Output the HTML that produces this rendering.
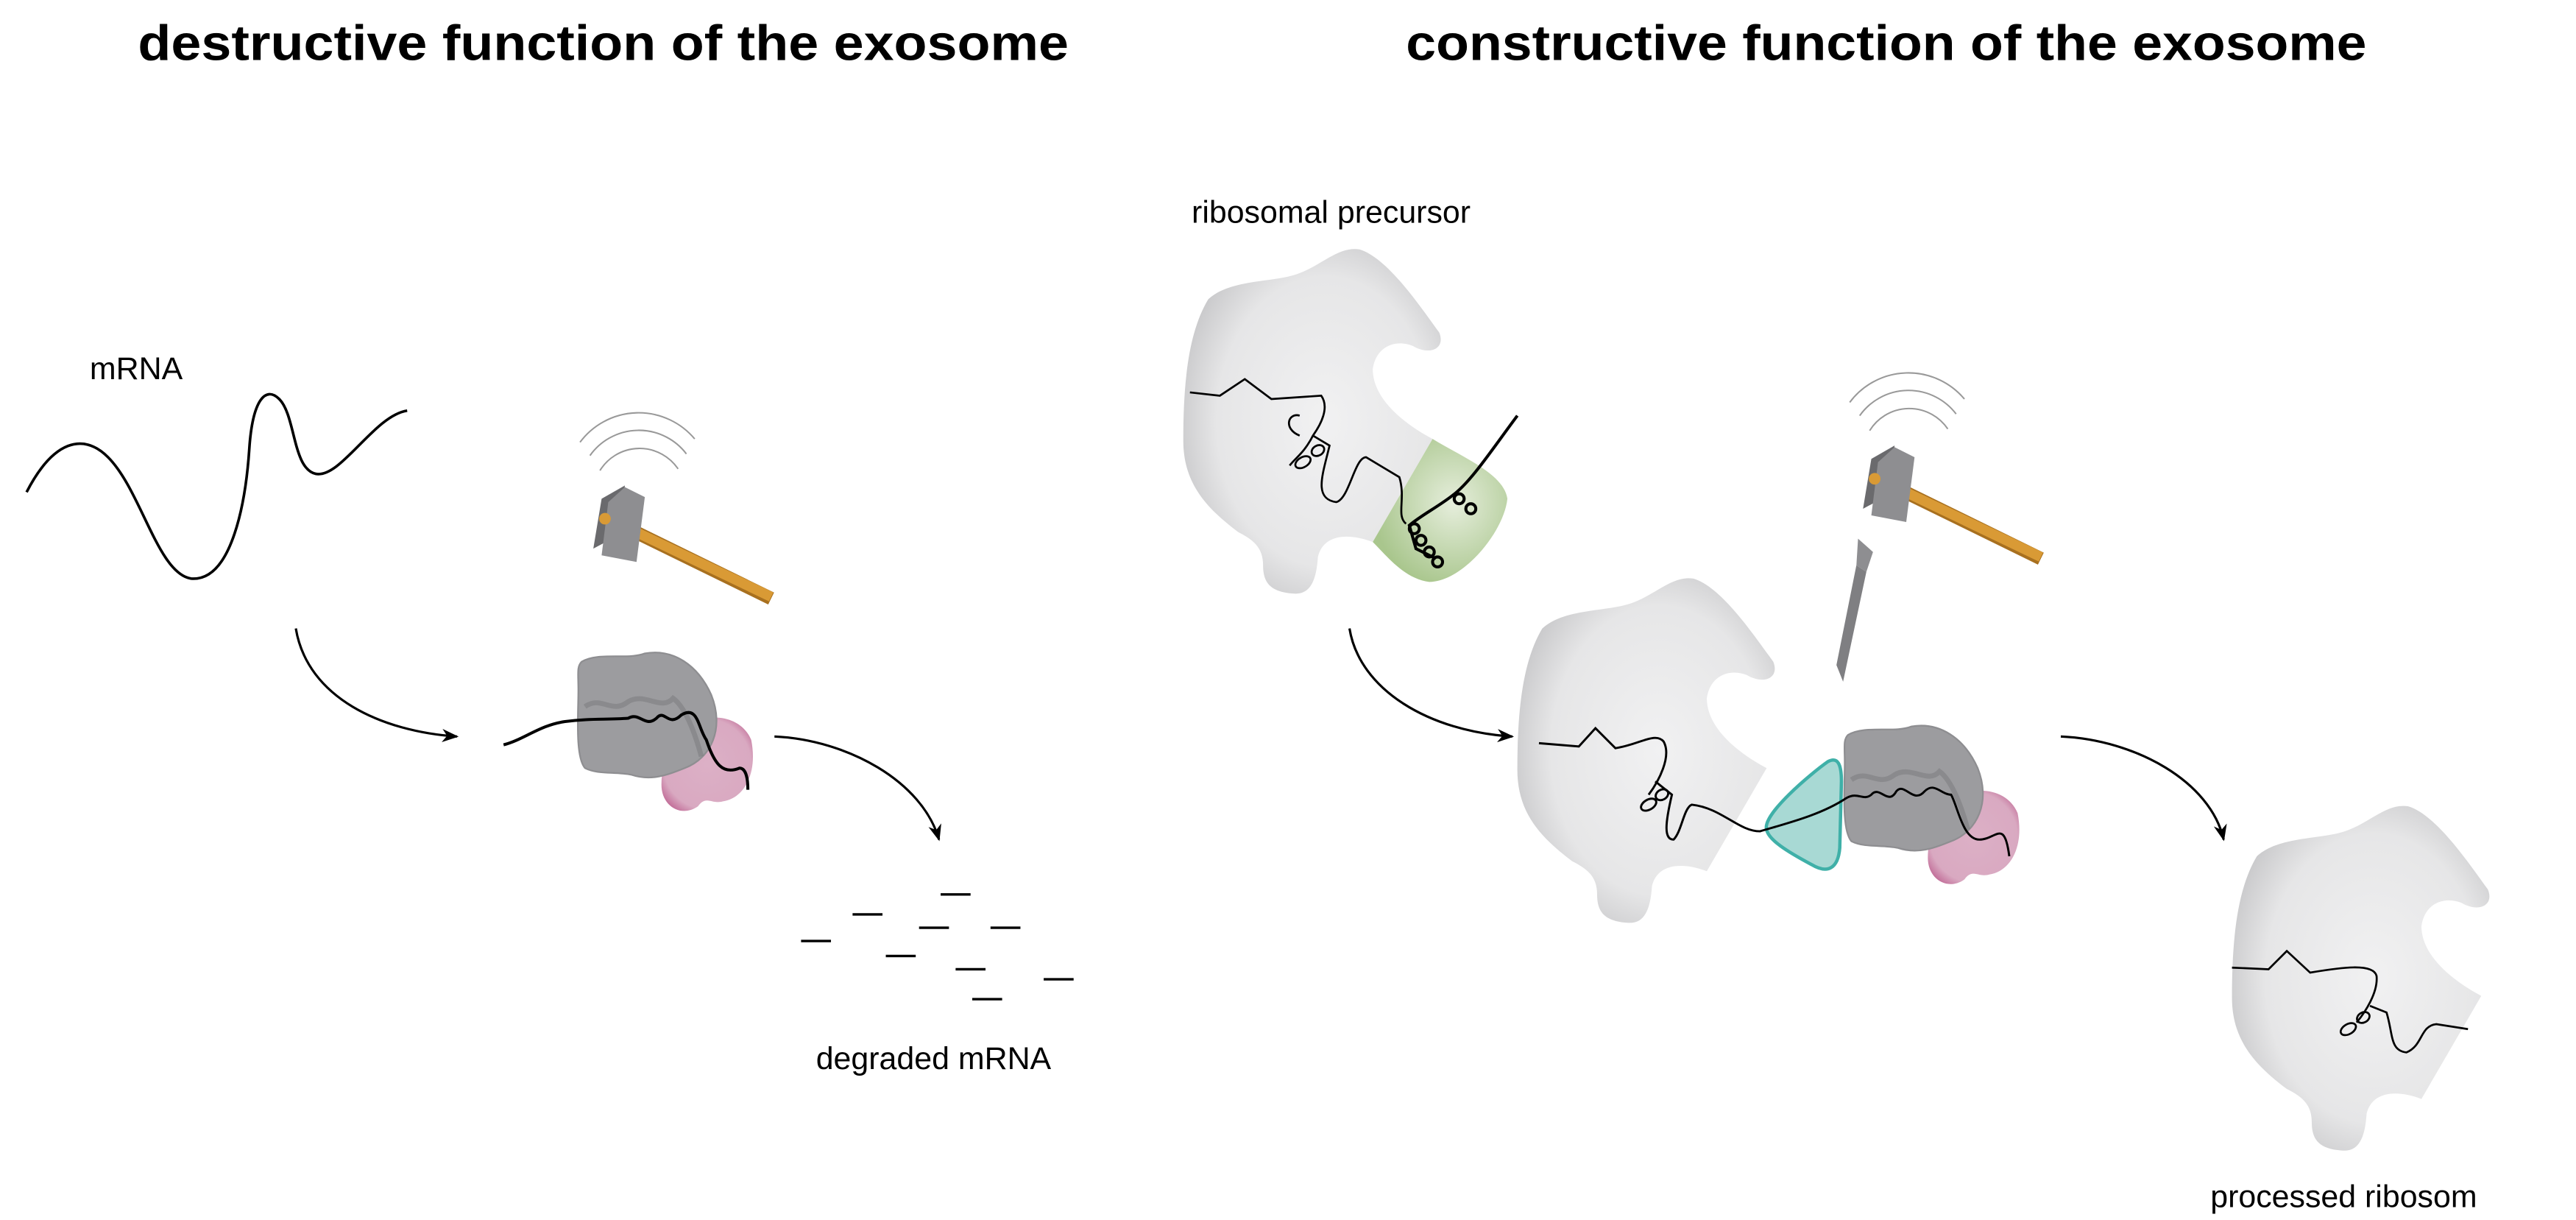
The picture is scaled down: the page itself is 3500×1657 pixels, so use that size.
<!DOCTYPE html>
<html><head><meta charset="utf-8"><style>
html,body{margin:0;padding:0;background:#fff;}
svg{display:block;}
text{font-family:"Liberation Sans",sans-serif;}
</style></head><body>
<svg width="3500" height="1657" viewBox="0 0 1550 733.8" xmlns="http://www.w3.org/2000/svg">
<defs>
<radialGradient id="gr" cx="0.55" cy="0.5" r="0.6">
<stop offset="0" stop-color="#f1f1f2"/><stop offset="0.7" stop-color="#e6e6e7"/><stop offset="1" stop-color="#c6c6c8"/></radialGradient>
<radialGradient id="gg" cx="0.6" cy="0.45" r="0.6">
<stop offset="0" stop-color="#e6eedc"/><stop offset="1" stop-color="#a9c68d"/></radialGradient>
<radialGradient id="pk" cx="0.5" cy="0.5" r="0.6">
<stop offset="0" stop-color="#dcb0c6"/><stop offset="0.8" stop-color="#d9a9c1"/><stop offset="1" stop-color="#c3709a"/></radialGradient>
<marker id="ah" markerWidth="10" markerHeight="8" refX="9" refY="4" orient="auto" markerUnits="userSpaceOnUse">
<path d="M0,0 L10,4 L0,8 L3,4 Z" fill="#000"/></marker>
<g id="ribo">
<path d="M818,150 C835,155 855,185 866,200 C870,210 860,214 850,208 C840,204 828,208 826,222 C826,240 845,255 862,264 L826,326 C810,320 796,322 793,335 C792,350 788,358 778,357 C764,356 760,350 760,340 C760,330 755,325 745,320 C725,305 712,290 712,265 C712,230 715,200 727,180 C740,168 765,170 780,165 C795,160 805,148 818,150 Z" fill="url(#gr)"/>
</g>
<g id="exo">
<path d="M410,440 C420,428 445,428 452,445 C456,465 448,480 435,482 C428,484 425,478 420,485 C410,492 398,485 398,472 C398,460 402,448 410,440 Z" fill="url(#pk)"/>
<path d="M350,398 C360,392 378,397 388,393 C405,390 420,400 428,418 C436,438 428,456 412,462 C402,466 392,470 380,466 C370,464 360,466 352,462 C346,455 348,430 348,415 C348,405 347,401 350,398 Z" fill="#9c9c9f" stroke="#8e8e91" stroke-width="1"/>
<path d="M352,425 C362,418 368,430 378,422 C388,416 398,428 405,420 C412,425 418,440 422,455" fill="none" stroke="#7f7f82" stroke-width="3" opacity="0.6"/>
</g>
<g id="ham">
<line x1="366" y1="312" x2="464" y2="360" stroke="#a8701f" stroke-width="8" stroke-linecap="butt"/>
<line x1="366" y1="312" x2="464" y2="359" stroke="#d99a35" stroke-width="6"/>
<polygon points="357,330 362,300 376,292 372,322" fill="#6a6a6d"/>
<polygon points="366,302 376,293 388,299 383,338 362,334" fill="#8e8e91"/>
<circle cx="364" cy="312" r="3.5" fill="#d99a35"/>
<path d="M361,283 A28,28 0 0 1 408,282" fill="none" stroke="#999" stroke-width="0.9"/>
<path d="M355,274 A36,36 0 0 1 413,273" fill="none" stroke="#999" stroke-width="0.9"/>
<path d="M349,266 A44,44 0 0 1 418,264" fill="none" stroke="#999" stroke-width="0.9"/>
</g>
</defs>

<text x="363" y="36" text-anchor="middle" font-size="30" font-weight="bold" textLength="560" lengthAdjust="spacingAndGlyphs">destructive function of the exosome</text>
<text x="1135" y="36" text-anchor="middle" font-size="30" font-weight="bold" textLength="578" lengthAdjust="spacingAndGlyphs">constructive function of the exosome</text>

<!-- left -->
<text x="54" y="228" font-size="19">mRNA</text>
<path d="M16,296 C32,265 50,260 65,275 C85,295 95,345 115,348 C140,350 148,300 150,270 C152,240 160,232 168,240 C178,250 176,282 190,285 C205,288 225,250 245,247" fill="none" stroke="#000" stroke-width="1.6"/>
<use href="#ham"/>
<path d="M178,378 C185,420 230,440 275,443" fill="none" stroke="#000" stroke-width="1.4" marker-end="url(#ah)"/>
<use href="#exo"/>
<path d="M303,448 C315,445 325,436 340,434 C355,432 365,433 378,432 C385,428 388,438 395,432 C400,426 402,438 410,430 C420,424 420,438 425,445 C430,460 435,466 445,462 C448,462 450,466 450,475" fill="none" stroke="#000" stroke-width="1.8"/>
<path d="M466,443 C510,445 555,470 565,505" fill="none" stroke="#000" stroke-width="1.4" marker-end="url(#ah)"/>
<g stroke="#000" stroke-width="1.5">
<line x1="566" y1="538" x2="584" y2="538"/><line x1="513" y1="550" x2="531" y2="550"/>
<line x1="553" y1="558" x2="571" y2="558"/><line x1="596" y1="558" x2="614" y2="558"/>
<line x1="482" y1="566" x2="500" y2="566"/><line x1="533" y1="575" x2="551" y2="575"/>
<line x1="575" y1="583" x2="593" y2="583"/><line x1="628" y1="589" x2="646" y2="589"/>
<line x1="585" y1="601" x2="603" y2="601"/>
</g>
<text x="491" y="643" font-size="19">degraded mRNA</text>

<!-- right -->
<text x="717" y="134" font-size="19">ribosomal precursor</text>
<use href="#ribo"/>
<path d="M862,264 C880,275 905,285 907,300 C905,320 880,350 860,350 C845,348 835,335 826,326 Z" fill="url(#gg)"/>
<g fill="none" stroke="#000" stroke-width="1.2">
<path d="M716,236 L734,238 L749,228 L765,240 L795,238 C800,245 795,255 790,262 C785,272 780,275 776,280 M782,250 C775,248 772,258 782,262 M790,262 L800,268 C796,285 790,300 804,302 C812,300 815,275 822,275 L842,287 C846,300 840,310 846,315"/>
<ellipse cx="784" cy="278" rx="5" ry="3" transform="rotate(-30 784 278)"/>
<ellipse cx="793" cy="271" rx="4" ry="3" transform="rotate(-30 793 271)"/>
</g>
<g fill="none" stroke="#000" stroke-width="1.8">
<path d="M913,250 C898,270 885,290 874,298 C865,305 855,310 848,316 L852,330 L864,336"/>
<circle cx="851" cy="318" r="3"/><circle cx="855" cy="325" r="3"/><circle cx="860" cy="332" r="3"/><circle cx="865" cy="338" r="3"/>
<circle cx="878" cy="300" r="3"/><circle cx="885" cy="306" r="3"/>
</g>
<path d="M812,378 C818,415 860,440 910,443" fill="none" stroke="#000" stroke-width="1.4" marker-end="url(#ah)"/>

<g transform="translate(201,198)"><use href="#ribo"/></g>
<path d="M1063,499 C1060,490 1090,465 1100,458 C1106,455 1108,460 1108,470 L1107,510 C1106,522 1100,526 1090,520 C1075,512 1064,505 1063,499 Z" fill="#a8d9d4" stroke="#3fb0a8" stroke-width="2"/>
<g transform="translate(762,44)"><use href="#exo"/></g>
<g fill="none" stroke="#000" stroke-width="1.3">
<path d="M930,447 L954,449 L964,438 L976,450 C990,448 1000,440 1005,446 C1010,455 1002,470 996,478 M1000,470 L1010,478 C1006,495 1005,505 1011,505 C1016,500 1017,486 1022,484 C1040,486 1050,500 1063,500 C1080,495 1100,490 1115,480 C1122,476 1125,482 1130,478 C1135,472 1140,485 1145,476 C1150,470 1155,484 1162,476 C1168,470 1172,478 1178,478 C1182,485 1185,505 1195,505 C1205,505 1210,492 1213,515" transform="translate(-4,0)"/>
<ellipse cx="992" cy="484" rx="5" ry="3" transform="rotate(-30 992 484)"/>
<ellipse cx="1000" cy="478" rx="4" ry="3" transform="rotate(-30 1000 478)"/>
</g>
<g transform="translate(764,-24)"><use href="#ham"/></g>
<polygon points="1109,410 1105,400 1117,340 1123,344" fill="#7f7f82"/>
<polygon points="1117,340 1123,344 1127,332 1118,324" fill="#8e8e91"/>
<path d="M1240,443 C1285,445 1330,470 1338,505" fill="none" stroke="#000" stroke-width="1.4" marker-end="url(#ah)"/>

<g transform="translate(631,335)"><use href="#ribo"/></g>
<g fill="none" stroke="#000" stroke-width="1.2" transform="translate(-12,-3)">
<path d="M1355,585 L1377,586 L1388,575 L1402,588 C1420,585 1440,582 1442,590 C1443,600 1435,612 1430,618 M1438,608 L1448,612 C1452,625 1450,635 1460,636 C1470,632 1468,620 1478,619 L1497,622"/>
<ellipse cx="1425" cy="622" rx="5" ry="3" transform="rotate(-30 1425 622)"/>
<ellipse cx="1434" cy="615" rx="4" ry="3" transform="rotate(-30 1434 615)"/>
</g>
<text x="1330" y="726" font-size="19">processed ribosom</text>
</svg>
</body></html>
